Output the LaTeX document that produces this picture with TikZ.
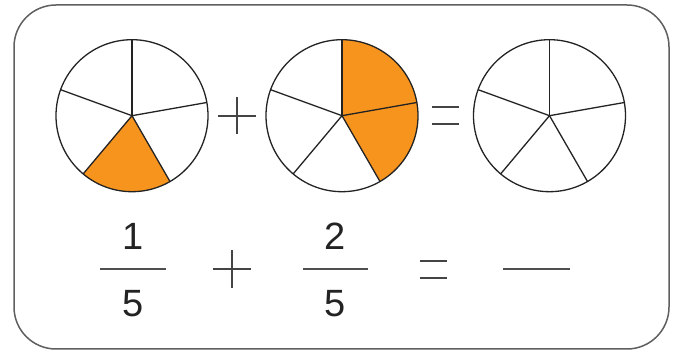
\documentclass[tikz,border=0pt]{standalone}
\usepackage{fontspec}
\setmainfont{Liberation Sans}
\usepackage{xcolor}
\definecolor{slice}{RGB}{247,148,30}
\definecolor{frame}{RGB}{95,95,95}
\definecolor{ink}{RGB}{35,35,35}
\usepackage{tikz}
\usetikzlibrary{positioning}
\tikzset{
  pie/.style={draw=ink, line width=1.3pt},
  shaded/.style={fill=slice},
  sign/.style={line width=1.7pt, color=ink!85},
  digit/.style={font=\fontsize{38}{40}\selectfont, inner sep=0pt, anchor=base, text=ink},
  fracbar/.style={line width=1.3pt, color=ink!80},
  outline/.style={draw=frame, line width=1.5pt, rounded corners=42pt}
}

\begin{document}
\begin{tikzpicture}[x=1pt, y=1pt]

  \useasboundingbox (0,0) rectangle (677,352);
  \draw[outline] (14,3) rectangle (669,347);

  % shaded parts
  \fill[shaded] (132,236.3) -- ++(230:76pt) arc (230:300:76pt) -- cycle;
  \fill[shaded] (342,236.3) -- ++(300:76pt) arc (300:450:76pt) -- cycle;

  % the three pies
  \foreach \cx in {132,342,549.5} {
    \draw[pie] (\cx,236.3) circle (76pt);
    \foreach \a in {10,90,160,230,300}
      \draw[pie] (\cx,236.3) -- ++(\a:76pt);
  }

  % signs between the pies
  \draw[sign] (218,236.3) -- (256,236.3);
  \draw[sign] (237,217.5) -- (237,255);
  \draw[sign] (432.3,244.7) -- (459.3,244.7);
  \draw[sign] (432.3,227.7) -- (459.3,227.7);

  % fractions
  \draw[fracbar] (100,83) -- (166,83);
  \node[digit] (num1) at (133,102) {1};
  \node[digit] (den1) at (133,35) {5};

  \draw[sign] (213,83) -- (251,83);
  \draw[sign] (232,64) -- (232,102);

  \draw[fracbar] (302.7,83) -- (368.3,83);
  \node[digit] (num2) at (335.5,102) {2};
  \node[digit] (den2) at (335.5,35) {5};

  \draw[sign] (420,91) -- (447.3,91);
  \draw[sign] (420,73.7) -- (447.3,73.7);

  \draw[fracbar] (503,83) -- (570,83);

\end{tikzpicture}
\end{document}
